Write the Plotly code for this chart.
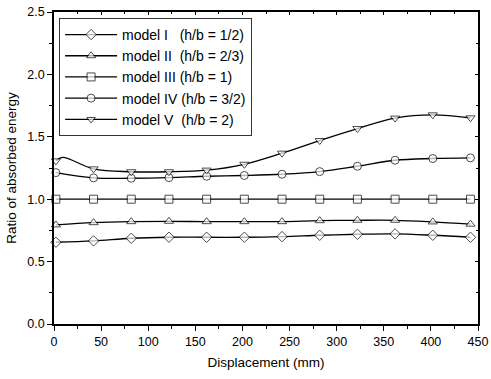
import plotly.graph_objects as go

x = [2, 42, 82, 122, 162, 202, 242, 282, 322, 362, 402, 442]
model_I = [0.655, 0.666, 0.687, 0.695, 0.695, 0.695, 0.700, 0.711, 0.719, 0.722, 0.711, 0.695]
model_II = [0.794, 0.812, 0.820, 0.823, 0.820, 0.820, 0.820, 0.828, 0.831, 0.831, 0.818, 0.800]
model_III = [1.0, 1.0, 1.0, 1.0, 1.0, 1.0, 1.0, 1.0, 1.0, 1.0, 1.0, 1.0]
model_IV = [1.213, 1.171, 1.168, 1.173, 1.184, 1.190, 1.200, 1.221, 1.264, 1.312, 1.326, 1.331]
# model V has an extra unmarked point near the start (visible hump)
x_V = [2, 9, 42, 82, 122, 162, 202, 242, 282, 322, 362, 402, 442]
model_V = [1.307, 1.335, 1.243, 1.22, 1.22, 1.233, 1.28, 1.369, 1.47, 1.566, 1.65, 1.676, 1.652]

names = ["model I   (h/b = 1/2)", "model II  (h/b = 2/3)", "model III (h/b = 1)",
         "model IV (h/b = 3/2)", "model V  (h/b = 2)"]
symbols = ["diamond", "triangle-up", "square", "circle", "triangle-down"]

MS = 8
fig = go.Figure()
series = [(x, model_I), (x, model_II), (x, model_III), (x, model_IV), (x_V, model_V)]
for i, ((xs, ys), nm, sym) in enumerate(zip(series, names, symbols)):
    size = [MS if xv in x else 0 for xv in xs]
    fig.add_trace(go.Scatter(
        x=xs, y=ys, name=nm, mode="lines+markers",
        line=dict(color="black", width=1.3, shape="spline", smoothing=1.0),
        marker=dict(symbol=sym, size=size, color="white", line=dict(color="black", width=1)),
        cliponaxis=False,
    ))

# empty trace to activate mirrored (inward tick) axes
fig.add_trace(go.Scatter(x=[], y=[], xaxis="x2", yaxis="y2", showlegend=False))

font = dict(family="Liberation Sans, Arial, sans-serif", size=12, color="black")
fig.update_layout(
    width=491, height=379,
    margin=dict(l=54, r=13, t=12, b=55, autoexpand=False),
    paper_bgcolor="white", plot_bgcolor="white",
    font=font,
    showlegend=True,
    legend=dict(x=0.012, y=0.981, xanchor="left", yanchor="top",
                bgcolor="white", bordercolor="#333333", borderwidth=1,
                font=dict(family="Liberation Sans, Arial, sans-serif", size=14),
                tracegroupgap=0, itemwidth=52),
    xaxis=dict(range=[0, 450], tickvals=[0, 50, 100, 150, 200, 250, 300, 350, 400, 450],
               ticks="outside", ticklen=5, tickcolor="black", tickwidth=1,
               minor=dict(dtick=25, tick0=0, ticks="outside", ticklen=3, tickcolor="black"),
               showline=True, linecolor="black", linewidth=1.5, mirror=True,
               showgrid=False, zeroline=False, automargin=False,
               tickfont=dict(size=12.5),
               title=dict(text="Displacement (mm)", font=dict(size=13.5), standoff=10)),
    yaxis=dict(range=[0, 2.5], tickvals=[0, 0.5, 1.0, 1.5, 2.0, 2.5],
               ticktext=["0.0", "0.5", "1.0", "1.5", "2.0", "2.5"],
               ticks="outside", ticklen=5, tickcolor="black", tickwidth=1,
               minor=dict(dtick=0.25, tick0=0, ticks="outside", ticklen=3, tickcolor="black"),
               showline=True, linecolor="black", linewidth=1.5, mirror=True,
               showgrid=False, zeroline=False, automargin=False,
               tickfont=dict(size=12.5),
               title=dict(text="Ratio of absorbed energy", font=dict(size=13.5), standoff=8)),
    xaxis2=dict(range=[0, 450], overlaying="x", side="top", anchor="y2",
                tickvals=[0, 50, 100, 150, 200, 250, 300, 350, 400, 450],
                ticks="inside", ticklen=3, tickcolor="black", showticklabels=False,
                minor=dict(dtick=25, tick0=0, ticks="inside", ticklen=2, tickcolor="black"),
                showgrid=False, zeroline=False, showline=False, automargin=False),
    yaxis2=dict(range=[0, 2.5], overlaying="y", side="right", anchor="x2",
                tickvals=[0, 0.5, 1.0, 1.5, 2.0, 2.5],
                ticks="inside", ticklen=3, tickcolor="black", showticklabels=False,
                minor=dict(dtick=0.25, tick0=0, ticks="inside", ticklen=2, tickcolor="black"),
                showgrid=False, zeroline=False, showline=False, automargin=False),
)

# remove the default 8px page margin so the figure fills the window exactly
fig.write_html("out.html", config={"displayModeBar": False},
               post_script="document.body.style.margin='0';")
